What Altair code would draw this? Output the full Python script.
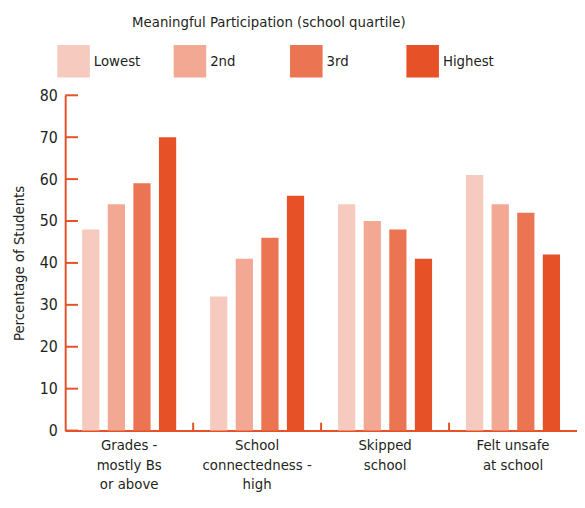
import altair as alt
import pandas as pd

categories = ["Grades -|mostly Bs|or above", "School|connectedness -|high", "Skipped|school", "Felt unsafe|at school"]
quartiles = ["Lowest", "2nd", "3rd", "Highest"]
lowest = [48, 32, 54, 61]
second = [54, 41, 50, 54]
third = [59, 46, 48, 52]
highest = [70, 56, 41, 42]
colors = ["#F6CABE", "#F2A893", "#EB7453", "#E65127"]
y_ticks = [0, 10, 20, 30, 40, 50, 60, 70, 80]

ORANGE = "#E65127"
TEXT = "#231F20"
FONT = "DejaVu Sans Condensed, Liberation Sans Narrow, sans-serif"

rows = []
for q, vals in zip(quartiles, [lowest, second, third, highest]):
    for c, v in zip(categories, vals):
        rows.append({"category": c, "quartile": q, "value": v})
df = pd.DataFrame(rows)

W, H = 519, 340

x_scale = alt.Scale(domain=categories, paddingInner=0, paddingOuter=0)
y_scale = alt.Scale(domain=[0, 80], nice=False)

bars = alt.Chart(df).mark_bar().encode(
    x=alt.X("category:N", sort=categories, scale=x_scale,
            axis=alt.Axis(title=None, labelAngle=0, ticks=False, domainColor=ORANGE, domainWidth=2,
                          labelExpr="split(datum.label, '|')", labelLineHeight=20,
                          labelFontSize=15, labelColor=TEXT, labelPadding=7, labelBaseline="top")),
    xOffset=alt.XOffset("quartile:N", sort=quartiles,
                        scale=alt.Scale(domain=quartiles, paddingInner=0.327, paddingOuter=0.663)),
    y=alt.Y("value:Q", scale=y_scale,
            axis=alt.Axis(title="Percentage of Students", values=y_ticks, ticks=False, grid=False,
                          domainColor=ORANGE, domainWidth=2, labelFontSize=16, labelColor=TEXT,
                          labelPadding=8, titleFontSize=15, titleFontWeight="normal",
                          titleColor=TEXT, titlePadding=13)),
    color=alt.Color("quartile:N", sort=quartiles,
                    scale=alt.Scale(domain=quartiles, range=colors),
                    legend=alt.Legend(title=None, orient="none", legendX=-8, legendY=-51,
                                      direction="horizontal", columns=4, symbolType="square",
                                      symbolSize=1089, symbolStrokeWidth=0, labelFontSize=15,
                                      labelColor=TEXT, columnPadding=29, gridAlign="all",
                                      labelOffset=4, padding=0, symbolOpacity=1)),
)

tick_df = pd.DataFrame({"v": y_ticks})
yticks = alt.Chart(tick_df).mark_rule(color=ORANGE, strokeWidth=2).encode(
    y=alt.Y("v:Q", scale=y_scale),
    x=alt.value(0),
    x2=alt.value(13),
)

xt_df = pd.DataFrame({"category": categories[1:]})
xticks = alt.Chart(xt_df).mark_rule(color=ORANGE, strokeWidth=2).encode(
    x=alt.X("category:N", sort=categories, scale=x_scale, bandPosition=0),
    y=alt.value(H),
    y2=alt.value(H - 8),
)

chart = alt.layer(bars, yticks, xticks).properties(
    width=W, height=H,
    padding={"left": 58, "top": 85, "right": 0, "bottom": 75},
    autosize=alt.AutoSizeParams(type="none"),
    title=alt.TitleParams("Meaningful Participation (school quartile)", fontSize=15,
                          fontWeight="normal", color=TEXT, anchor="middle", dx=-53, dy=19,
                          offset=34),
).configure(font=FONT).configure_view(stroke=None)

chart.save("out.html", embed_options={"renderer": "svg", "actions": False})
